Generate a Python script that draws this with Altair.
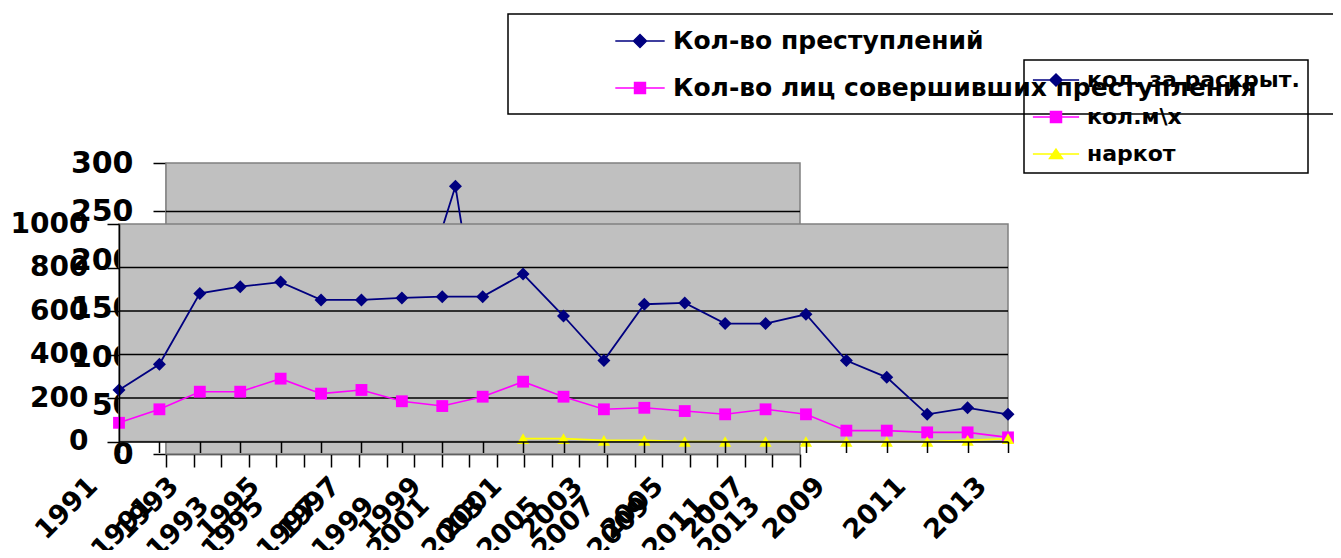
import altair as alt
import pandas as pd

# ---------------- data ----------------
years = list(range(1991, 2014))
front_crimes = [237, 355, 681, 712, 733, 651, 651, 660, 666, 666, 770, 577,
                372, 631, 637, 542, 542, 585, 372, 295, 125, 155, 125]
front_persons = [86, 148, 229, 229, 289, 220, 237, 185, 163, 206, 275, 206,
                 148, 155, 140, 125, 148, 125, 50, 50, 42, 42, 19]
narc_years = list(range(2001, 2014))
front_narc = [13, 13, 5, 5, 0, 0, 0, 0, 0, 0, 0, 5, 13]

# back (hidden) chart: only the part above the front chart is visible
back_years = [2000, 2001, 2002]
back_crimes = [186, 276, 97]

front_names = ["кол. за раскрыт.", "кол.м\\х", "наркот"]
back_names = ["Кол-во преступлений", "Кол-во лиц совершивших преступления"]

front_y_ticks = [0, 200, 400, 600, 800, 1000]
back_y_ticks = [0, 50, 100, 150, 200, 250, 300]

# ---------------- styling / geometry ----------------
NAVY, MAG, YEL = "#000080", "#FF00FF", "#FFFF00"
GRAY, BORDER = "#C0C0C0", "#808080"
FONT = "DejaVu Sans"

W, H = 889, 291
F_BOTTOM, F_TOP = 278.5, 61
B_LEFT, B_RIGHT = 47, 681

front_x_ticks = years
back_x_ticks = [y - 0.5 for y in years] + [years[-1] + 0.5]

fx_scale = alt.Scale(domain=[years[0], years[-1]], range=[0, W], nice=False, zero=False)
fy_scale = alt.Scale(domain=[front_y_ticks[0], front_y_ticks[-1]], range=[F_BOTTOM, F_TOP], nice=False, zero=False)
bx_scale = alt.Scale(domain=[back_x_ticks[0], back_x_ticks[-1]], range=[B_LEFT, B_RIGHT], nice=False, zero=False)
by_scale = alt.Scale(domain=[back_y_ticks[0], back_y_ticks[-1]], range=[H, 0], nice=False, zero=False)

common = dict(title=None, grid=False, labelOverlap=False, labelFlush=False, labelBound=False,
              labelFont=FONT, labelFontWeight="bold", labelColor="black",
              domainColor="black", tickColor="black", domainWidth=1.5, tickWidth=1.5)

fx_axis = alt.Axis(orient="bottom", values=front_x_ticks, format="d",
                   labelExpr="datum.value % 2 == 1 ? datum.label : ''",
                   labelAngle=-45, labelAlign="right", labelBaseline="middle",
                   labelFontSize=27, labelPadding=29, labelOffset=-26, tickSize=11,
                   offset=F_BOTTOM - H, zindex=1, **common)
bx_axis = alt.Axis(orient="bottom", values=back_x_ticks,
                   labelExpr="((datum.value - 0.5) % 2 == 0) ? format(datum.value + 0.5, 'd') : ''",
                   labelAngle=-45, labelAlign="right", labelBaseline="middle",
                   labelFontSize=27, labelPadding=34, labelOffset=-17, tickSize=13,
                   offset=0, zindex=0, **common)
fy_axis = alt.Axis(orient="left", values=front_y_ticks, format="d", labelFontSize=28,
                   labelPadding=19, tickSize=12, offset=0, zindex=1, **common)
by_axis = alt.Axis(orient="left", values=back_y_ticks, format="d", labelFontSize=30,
                   labelPadding=20, tickSize=13, offset=-B_LEFT, zindex=0, **common)

def FX(f):
    return alt.X(f"{f}:Q", scale=fx_scale, axis=fx_axis)
def FY(f):
    return alt.Y(f"{f}:Q", scale=fy_scale, axis=fy_axis)
def BX(f):
    return alt.X(f"{f}:Q", scale=bx_scale, axis=bx_axis)
def BY(f):
    return alt.Y(f"{f}:Q", scale=by_scale, axis=by_axis)

# legend symbols: line + marker (unit = sqrt(size)/2 px)
B_DIAM = "M-1.9,0L1.9,0M0,-0.5L0.5,0L0,0.5L-0.5,0Z"
B_SQ = "M-1.9,0L1.9,0M-0.42,-0.42L0.42,-0.42L0.42,0.42L-0.42,0.42Z"
S_DIAM = "M-2.1,0L2.1,0M0,-0.55L0.55,0L0,0.55L-0.55,0Z"
S_SQ = "M-2.1,0L2.1,0M-0.5,-0.5L0.5,-0.5L0.5,0.5L-0.5,0.5Z"
S_TRI = "M-2.1,0L2.1,0M0,-0.45L0.59,0.41L-0.59,0.41Z"

leg_common = dict(orient="none", direction="vertical", labelFont=FONT,
                  labelFontWeight="bold", labelColor="black", labelLimit=2000,
                  strokeColor="black", symbolStrokeWidth=1.5, symbolOpacity=1)
big_leg = alt.Legend(legendX=389, legendY=-149, padding=13, rowPadding=20,
                     symbolOffset=105, labelOffset=19, labelFontSize=25,
                     symbolSize=676, title="\u00a0", titleOrient="right", titlePadding=90,
                     titleFontSize=10, **leg_common)
small_leg = alt.Legend(legendX=905, legendY=-103, padding=8, rowPadding=14,
                       symbolOffset=12, labelOffset=19, labelFontSize=22,
                       symbolSize=484, title=None, **leg_common)

# ---------------- back chart ----------------
back_df = pd.DataFrame({"year": back_years, "crimes": back_crimes})
back_box = pd.DataFrame({"x0": [back_x_ticks[0]], "x1": [back_x_ticks[-1]],
                         "y0": [back_y_ticks[0]], "y1": [back_y_ticks[-1]]})
back_grid_df = pd.DataFrame({"v": back_y_ticks[1:-1]})
back_grid_df["x0"] = back_x_ticks[0]
back_grid_df["x1"] = back_x_ticks[-1]

b_rect = alt.Chart(back_box).mark_rect(fill=GRAY, stroke=BORDER, strokeWidth=1.5).encode(
    x=BX("x0"), x2="x1:Q", y=BY("y0"), y2="y1:Q")
b_grid = alt.Chart(back_grid_df).mark_rule(color="black", strokeWidth=1.3).encode(
    x=BX("x0"), x2="x1:Q", y=BY("v"))
b_line = alt.Chart(back_df).mark_line(color=NAVY, strokeWidth=1.8).encode(x=BX("year"), y=BY("crimes"))
b_pts = alt.Chart(back_df).mark_point(shape="diamond", filled=True, size=169, color=NAVY, opacity=1).encode(
    x=BX("year"), y=BY("crimes"))
b_leg = alt.Chart(pd.DataFrame({"series": back_names})).transform_filter("false").mark_point(
    filled=True, size=676, opacity=1).encode(
    color=alt.Color("series:N", scale=alt.Scale(domain=back_names, range=[NAVY, MAG]), legend=big_leg),
    stroke=alt.Stroke("series:N", scale=alt.Scale(domain=back_names, range=[NAVY, MAG]), legend=big_leg),
    shape=alt.Shape("series:N", scale=alt.Scale(domain=back_names, range=[B_DIAM, B_SQ]), legend=big_leg))
back = alt.layer(b_rect, b_grid, b_line, b_pts, b_leg)

# ---------------- front chart ----------------
front_df = pd.DataFrame({"year": years, "crimes": front_crimes, "persons": front_persons})
narc_df = pd.DataFrame({"year": narc_years, "narc": front_narc})
front_box = pd.DataFrame({"x0": [years[0]], "x1": [years[-1]],
                          "y0": [front_y_ticks[0]], "y1": [front_y_ticks[-1]]})
front_grid_df = pd.DataFrame({"v": front_y_ticks[1:-1]})
front_grid_df["x0"] = years[0]
front_grid_df["x1"] = years[-1]

f_rect = alt.Chart(front_box).mark_rect(fill=GRAY, stroke=BORDER, strokeWidth=1.5).encode(
    x=FX("x0"), x2="x1:Q", y=FY("y0"), y2="y1:Q")
f_grid = alt.Chart(front_grid_df).mark_rule(color="black", strokeWidth=1.3).encode(
    x=FX("x0"), x2="x1:Q", y=FY("v"))
f_l1 = alt.Chart(front_df).mark_line(color=NAVY, strokeWidth=1.8).encode(x=FX("year"), y=FY("crimes"))
f_p1 = alt.Chart(front_df).mark_point(shape="diamond", filled=True, size=169, color=NAVY, opacity=1).encode(
    x=FX("year"), y=FY("crimes"))
f_l2 = alt.Chart(front_df).mark_line(color=MAG, strokeWidth=1.6).encode(x=FX("year"), y=FY("persons"))
f_p2 = alt.Chart(front_df).mark_point(shape="square", filled=True, size=140, color=MAG, opacity=1).encode(
    x=FX("year"), y=FY("persons"))
f_l3 = alt.Chart(narc_df).mark_line(color=YEL, strokeWidth=1.6).encode(x=FX("year"), y=FY("narc"))
f_p3 = alt.Chart(narc_df).mark_point(shape="triangle-up", filled=True, size=150, color=YEL, opacity=1).encode(
    x=FX("year"), y=FY("narc"))
f_leg = alt.Chart(pd.DataFrame({"series": front_names})).transform_filter("false").mark_point(
    filled=True, size=484, opacity=1).encode(
    color=alt.Color("series:N", scale=alt.Scale(domain=front_names, range=[NAVY, MAG, YEL]), legend=small_leg),
    stroke=alt.Stroke("series:N", scale=alt.Scale(domain=front_names, range=[NAVY, MAG, YEL]), legend=small_leg),
    shape=alt.Shape("series:N", scale=alt.Scale(domain=front_names, range=[S_DIAM, S_SQ, S_TRI]), legend=small_leg))
front = alt.layer(f_rect, f_grid, f_l1, f_l2, f_l3, f_p1, f_p2, f_p3, f_leg)

chart = alt.layer(back, front).resolve_scale(
    x="independent", y="independent", color="independent", shape="independent", stroke="independent"
).resolve_axis(x="independent", y="independent").properties(
    width=W, height=H,
    padding={"left": 111, "top": 155, "right": 325, "bottom": 96},
    autosize=alt.AutoSizeParams(type="none"),
).configure_view(strokeWidth=0).configure_legend(strokeWidth=1.5)

chart.save("out.html", embed_options={"renderer": "svg", "actions": False})
